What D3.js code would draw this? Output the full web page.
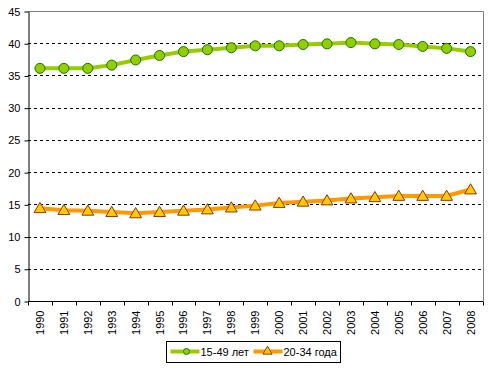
<!DOCTYPE html>
<html>
<head>
<meta charset="utf-8">
<script src="https://cdn.jsdelivr.net/npm/d3@7"></script>
<style>
  body { margin: 0; background: #fff; }
  svg { display: block; font-family: "Liberation Sans", Arial, sans-serif; }
</style>
</head>
<body>
<script>
const w = 493;
const h = 370;
const padding = { top: 11, left: 28, right: 10, bottom: 69 };

const years = ['1990', '1991', '1992', '1993', '1994', '1995', '1996', '1997', '1998', '1999',
  '2000', '2001', '2002', '2003', '2004', '2005', '2006', '2007', '2008'];
const age1549 = [36.1, 36.1, 36.1, 36.6, 37.4, 38.1, 38.7, 39.0, 39.3, 39.6,
  39.6, 39.8, 39.9, 40.1, 39.9, 39.8, 39.5, 39.2, 38.7];
const age2034 = [14.4, 14.1, 14.0, 13.8, 13.6, 13.8, 14.0, 14.2, 14.5, 14.8,
  15.2, 15.4, 15.6, 15.9, 16.1, 16.3, 16.3, 16.3, 17.3];
const yTicks = [0, 5, 10, 15, 20, 25, 30, 35, 40, 45];
const seriesNames = ['15-49 лет', '20-34 года'];

const svg = d3.select('body').append('svg')
  .attr('width', w)
  .attr('height', h);

const x = d3.scaleBand().domain(years).range([padding.left, w - padding.right - 0.5]);
const y = d3.scaleLinear().domain([0, 45]).range([h - padding.bottom, padding.top]);
const cx = (d) => x(d) + x.bandwidth() / 2;

// dashed gridlines
svg.append('g')
  .selectAll('line')
  .data(yTicks.filter(t => t > 0 && t < 45))
  .enter()
  .append('line')
  .attr('x1', padding.left)
  .attr('x2', w - padding.right)
  .attr('y1', d => Math.round(y(d)) + 0.5)
  .attr('y2', d => Math.round(y(d)) + 0.5)
  .attr('stroke', '#000')
  .attr('stroke-dasharray', '3,3');

// plot border (top, right)
svg.append('path')
  .attr('d', `M${padding.left},${Math.round(y(45)) + 0.5}H${Math.round(w - padding.right) + 0.5}V${Math.round(y(0)) + 0.5}`)
  .attr('fill', 'none')
  .attr('stroke', '#808080');

// y axis
const yAxis = d3.axisLeft(y).tickValues(yTicks).tickSize(4).tickSizeOuter(0);
const gy = svg.append('g')
  .attr('transform', `translate(${padding.left + 0.5},0.5)`)
  .call(yAxis);
gy.select('.domain').attr('stroke', '#000');
gy.selectAll('text').attr('font-size', 11).attr('font-family', '"Liberation Sans", Arial, sans-serif').attr('fill', '#000').attr('x', -8);

// x axis with ticks between categories
const gx = svg.append('g')
  .attr('transform', `translate(0,${Math.round(y(0)) + 0.5})`);
gx.append('line')
  .attr('x1', padding.left)
  .attr('x2', w - padding.right)
  .attr('stroke', '#000');
gx.selectAll('.tk')
  .data(years.concat(['end']))
  .enter()
  .append('line')
  .attr('x1', (d, i) => Math.round(i < years.length ? x(d) : x(years[years.length - 1]) + x.bandwidth()) + 0.5)
  .attr('x2', (d, i) => Math.round(i < years.length ? x(d) : x(years[years.length - 1]) + x.bandwidth()) + 0.5)
  .attr('y1', 0)
  .attr('y2', 4)
  .attr('stroke', '#000');
gx.selectAll('text')
  .data(years)
  .enter()
  .append('text')
  .attr('transform', d => `translate(${cx(d) + 4},9) rotate(-90)`)
  .attr('text-anchor', 'end')
  .attr('font-size', 11)
  .text(d => d);

// lines
const line = (vals) => d3.line().x((d, i) => cx(years[i])).y(d => y(d))(vals);

svg.append('path')
  .attr('d', line(age1549))
  .attr('fill', 'none')
  .attr('stroke', '#99cc00')
  .attr('stroke-width', 4);

svg.append('path')
  .attr('d', line(age2034))
  .attr('fill', 'none')
  .attr('stroke', '#ff9900')
  .attr('stroke-width', 4);

// markers
const tri = d3.symbol().type(d3.symbolTriangle).size(60);

svg.append('g')
  .selectAll('circle')
  .data(age1549)
  .enter()
  .append('circle')
  .attr('cx', (d, i) => cx(years[i]))
  .attr('cy', d => y(d))
  .attr('r', 5)
  .attr('fill', '#99cc00')
  .attr('stroke', '#008000')
  .attr('stroke-width', 1);

svg.append('g')
  .selectAll('path')
  .data(age2034)
  .enter()
  .append('path')
  .attr('d', tri)
  .attr('transform', (d, i) => `translate(${cx(years[i])},${y(d) + 1})`)
  .attr('fill', '#ffcc00')
  .attr('stroke', '#993300')
  .attr('stroke-width', 1);

// legend
const legend = svg.append('g').attr('transform', 'translate(166.5,341.5)');
legend.append('rect')
  .attr('width', 174)
  .attr('height', 21)
  .attr('fill', '#fff')
  .attr('stroke', '#000');

const lg1 = legend.append('g').attr('transform', 'translate(4,10)');
lg1.append('line').attr('x1', 0).attr('x2', 29).attr('stroke', '#99cc00').attr('stroke-width', 4);
lg1.append('circle').attr('cx', 16).attr('cy', 0).attr('r', 3).attr('fill', '#99cc00').attr('stroke', '#008000');
lg1.append('text').attr('x', 30).attr('y', 4).attr('font-size', 11).text(seriesNames[0]);

const lg2 = legend.append('g').attr('transform', 'translate(87,10)');
lg2.append('line').attr('x1', 0).attr('x2', 29).attr('stroke', '#ff9900').attr('stroke-width', 4);
lg2.append('path').attr('d', d3.symbol().type(d3.symbolTriangle).size(36)).attr('transform', 'translate(14,0)')
  .attr('fill', '#ffcc00').attr('stroke', '#993300');
lg2.append('text').attr('x', 30).attr('y', 4).attr('font-size', 11).text(seriesNames[1]);
</script>
</body>
</html>
